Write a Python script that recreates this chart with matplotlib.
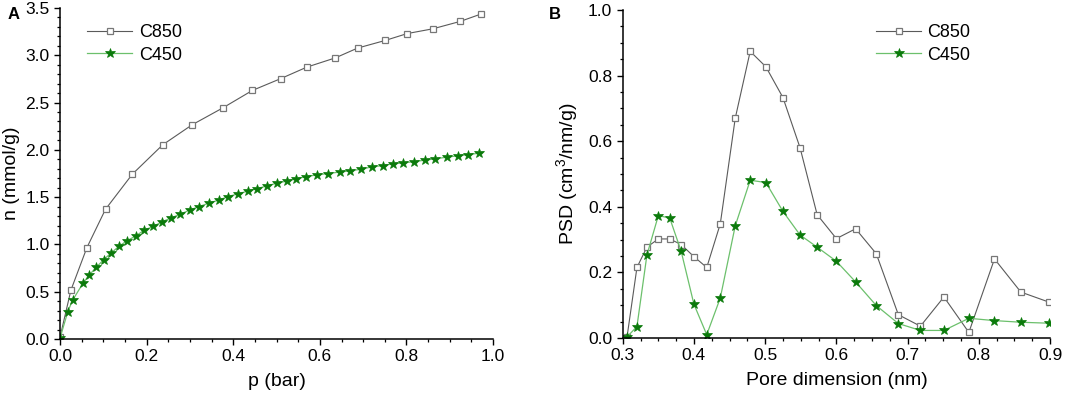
import matplotlib
matplotlib.use("Agg")
import matplotlib.pyplot as plt
from matplotlib.ticker import MultipleLocator

plt.rcParams["font.family"] = ["Liberation Sans", "DejaVu Sans"]
plt.rcParams["mathtext.default"] = "regular"

# panel A: CO2 isotherms
p_c850 = [0.0, 0.025, 0.062, 0.105, 0.167, 0.237, 0.305, 0.376, 0.444, 0.510,
          0.570, 0.636, 0.687, 0.751, 0.802, 0.861, 0.924, 0.972]
n_c850 = [0.02, 0.515, 0.966, 1.372, 1.743, 2.053, 2.265, 2.444, 2.628, 2.754,
          2.875, 2.973, 3.076, 3.157, 3.23, 3.28, 3.358, 3.436]

p_c450 = [0.0, 0.018, 0.029, 0.053, 0.068, 0.084, 0.101, 0.118, 0.136, 0.155,
          0.175, 0.194, 0.215, 0.236, 0.256, 0.278, 0.300, 0.321, 0.343, 0.366,
          0.388, 0.410, 0.433, 0.455, 0.478, 0.500, 0.523, 0.545, 0.569, 0.593,
          0.618, 0.646, 0.670, 0.696, 0.720, 0.745, 0.768, 0.793, 0.818, 0.842,
          0.867, 0.893, 0.918, 0.943, 0.968]
n_c450 = [0.01, 0.29, 0.41, 0.59, 0.68, 0.76, 0.84, 0.91, 0.98, 1.04,
          1.09, 1.15, 1.19, 1.24, 1.28, 1.32, 1.365, 1.40, 1.436, 1.468,
          1.506, 1.534, 1.563, 1.59, 1.619, 1.647, 1.669, 1.693, 1.718, 1.735,
          1.750, 1.765, 1.778, 1.796, 1.82, 1.834, 1.852, 1.862, 1.876, 1.891,
          1.905, 1.923, 1.937, 1.950, 1.965]

# panel B: pore size distribution
pore = [0.306, 0.320, 0.334, 0.350, 0.366, 0.382, 0.400, 0.418, 0.437, 0.458,
        0.479, 0.501, 0.525, 0.549, 0.573, 0.600, 0.627, 0.656, 0.687, 0.718,
        0.751, 0.786, 0.822, 0.859, 0.899]
psd_c850 = [0.002, 0.215, 0.277, 0.302, 0.302, 0.285, 0.248, 0.215, 0.348, 0.670,
            0.874, 0.827, 0.733, 0.580, 0.376, 0.303, 0.333, 0.257, 0.071, 0.036,
            0.125, 0.017, 0.241, 0.140, 0.109]
psd_c450 = [0.003, 0.035, 0.253, 0.373, 0.366, 0.265, 0.103, 0.010, 0.122, 0.342,
            0.481, 0.474, 0.386, 0.314, 0.277, 0.234, 0.171, 0.099, 0.044, 0.023,
            0.023, 0.060, 0.053, 0.048, 0.045]

GRAY_LINE = "#5a5a5a"
GRAY_MARK = "#777777"
GREEN_LINE = "#6cc06c"
GREEN_MARK = "#0b7a0b"


def style_axes(ax):
    for side in ("top", "right"):
        ax.spines[side].set_visible(False)
    for side in ("left", "bottom"):
        ax.spines[side].set_linewidth(1.1)
    ax.tick_params(which="major", direction="out", length=4, width=1.0, labelsize=12.5)
    ax.tick_params(which="minor", direction="out", length=2.3, width=0.9)


def draw_series(ax, x, y_gray, x2, y_green):
    ax.plot(x, y_gray, color=GRAY_LINE, lw=0.8, marker="s", ms=5,
            mfc="white", mec=GRAY_MARK, mew=0.9, label="C850")
    ax.plot(x2, y_green, color=GREEN_LINE, lw=0.9, marker="*", ms=7,
            mfc=GREEN_MARK, mec=GREEN_MARK, mew=0.5, label="C450")


fig = plt.figure(figsize=(10.74, 3.98), dpi=100)
ax1 = fig.add_axes([0.0559, 0.1482, 0.4032, 0.8317])
ax2 = fig.add_axes([0.5798, 0.1508, 0.3979, 0.8240])

draw_series(ax1, p_c850, n_c850, p_c450, n_c450)
ax1.set_xlim(0, 1.0)
ax1.set_ylim(0, 3.5)
ax1.xaxis.set_major_locator(MultipleLocator(0.2))
ax1.xaxis.set_minor_locator(MultipleLocator(0.05))
ax1.yaxis.set_major_locator(MultipleLocator(0.5))
ax1.yaxis.set_minor_locator(MultipleLocator(0.1))
ax1.set_xlabel("p (bar)", fontsize=14, labelpad=6)
ax1.set_ylabel("n (mmol/g)", fontsize=14, labelpad=4)
style_axes(ax1)
ax1.legend(loc="upper left", bbox_to_anchor=(0.063, 0.951), frameon=False,
           fontsize=13, handlelength=2.5, handletextpad=0.35, labelspacing=0.3,
           borderpad=0, borderaxespad=0)

draw_series(ax2, pore, psd_c850, pore, psd_c450)
ax2.set_xlim(0.3, 0.9)
ax2.set_ylim(0, 1.0)
ax2.xaxis.set_major_locator(MultipleLocator(0.1))
ax2.xaxis.set_minor_locator(MultipleLocator(0.025))
ax2.yaxis.set_major_locator(MultipleLocator(0.2))
ax2.yaxis.set_minor_locator(MultipleLocator(0.05))
ax2.set_xlabel("Pore dimension (nm)", fontsize=14, labelpad=6)
ax2.set_ylabel("PSD (cm$^{3}$/nm/g)", fontsize=14, labelpad=6)
style_axes(ax2)
ax2.legend(loc="upper left", bbox_to_anchor=(0.593, 0.957), frameon=False,
           fontsize=13, handlelength=2.5, handletextpad=0.35, labelspacing=0.3,
           borderpad=0, borderaxespad=0)

fig.text(0.007, 0.963, "A", fontsize=12, fontweight="bold", va="center")
fig.text(0.511, 0.963, "B", fontsize=12, fontweight="bold", va="center")

fig.savefig("out.png", dpi=100)
